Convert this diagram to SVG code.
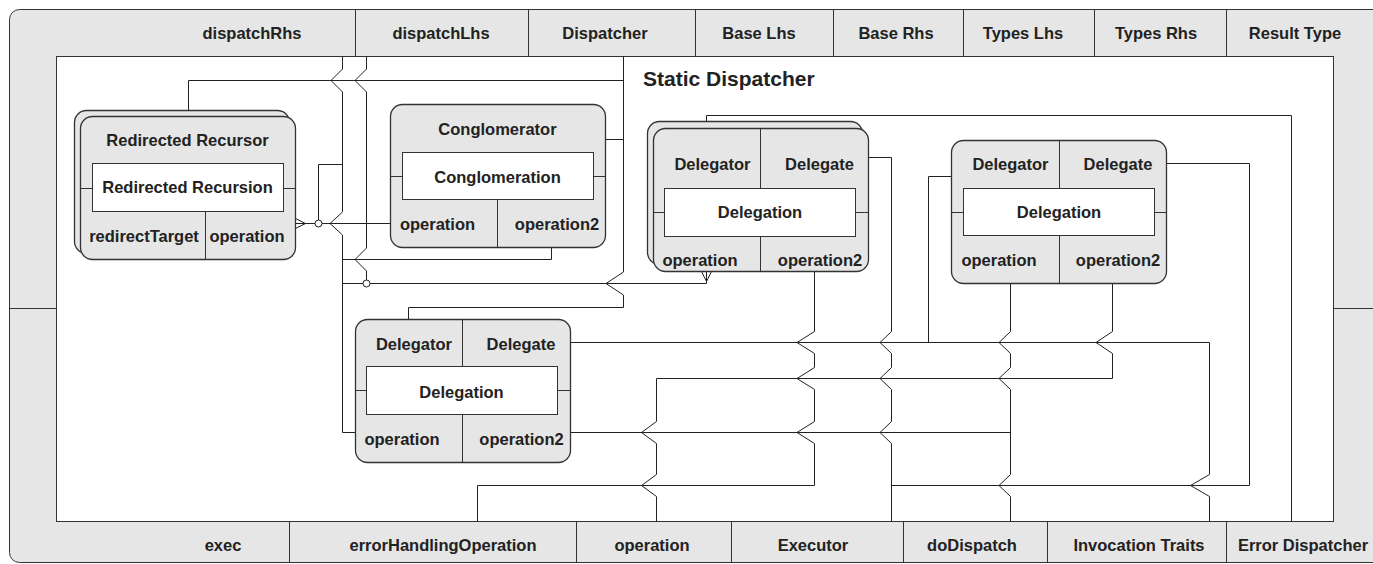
<svg xmlns="http://www.w3.org/2000/svg" width="1373" height="564" viewBox="0 0 1373 564">
<style>
.frame{fill:#e6e6e6;stroke:#333;stroke-width:1}
.inner{fill:#fff;stroke:#333;stroke-width:1}
.node{fill:#e6e6e6;stroke:#333;stroke-width:1.3}
.ln{fill:none;stroke:#333;stroke-width:1}
.edge{fill:none;stroke:#222;stroke-width:1}
.dot{fill:#fff;stroke:#222;stroke-width:1}
text{font-family:"Liberation Sans",Arial,sans-serif;font-weight:bold;font-size:16.5px;fill:#222;text-anchor:middle}
.title{font-size:21px;text-anchor:start}
</style>
<g id="container">
<rect class="frame" x="9.5" y="9.5" width="1400" height="553" rx="10"/>
<rect class="inner" x="56.5" y="56.5" width="1277" height="465"/>
<path class="ln" d="M355.5 9.5V56.5M528.5 9.5V56.5M695.5 9.5V56.5M833.5 9.5V56.5M963.5 9.5V56.5M1094.5 9.5V56.5M1226.5 9.5V56.5"/>
<path class="ln" d="M289.5 521.5V562.5M576.5 521.5V562.5M731.5 521.5V562.5M903.5 521.5V562.5M1047.5 521.5V562.5M1226.5 521.5V562.5"/>
<path class="ln" d="M9.5 308.5H56.5M1333.5 308.5H1373"/>
<text x="252" y="39">dispatchRhs</text>
<text x="441" y="39">dispatchLhs</text>
<text x="605" y="39">Dispatcher</text>
<text x="759" y="39">Base Lhs</text>
<text x="896" y="39">Base Rhs</text>
<text x="1023" y="39">Types Lhs</text>
<text x="1156" y="39">Types Rhs</text>
<text x="1295" y="39">Result Type</text>
<text x="223" y="551">exec</text>
<text x="443" y="551">errorHandlingOperation</text>
<text x="652" y="551">operation</text>
<text x="813" y="551">Executor</text>
<text x="972" y="551">doDispatch</text>
<text x="1139" y="551">Invocation Traits</text>
<text x="1303" y="551">Error Dispatcher</text>
<text class="title" x="643" y="86">Static Dispatcher</text>
</g>
<g id="connectors">
<path class="edge" d="M342.5 56.5V69L331 80.5L342.5 92V212L330 223.5L342.5 235V432.5H355.5"/>
<path class="edge" d="M342.5 164.5H318.5V220"/>
<path class="edge" d="M295.5 223.5H390.5M295.5 218.5L305.5 223.5L295.5 228.5"/>
<circle class="dot" cx="318.5" cy="223.5" r="3.5"/>
<path class="edge" d="M366.5 56.5V69L355 80.5L366.5 92V248L355 259.5L366.5 271V280"/>
<path class="edge" d="M188.5 116.5V80.5H623.5"/>
<path class="edge" d="M623.5 56.5V272L606 283.5L623.5 295V307.5H408.5V319.5"/>
<path class="edge" d="M605.5 139.5H623.5"/>
<path class="edge" d="M551.5 247.5V259.5H342.5"/>
<path class="edge" d="M706.5 271.5V283.5H342.5M701.5 271.5L706.5 281.5L711.5 271.5"/>
<circle class="dot" cx="366.5" cy="283.5" r="3.5"/>
<path class="edge" d="M1291.5 521.5V115.5H706.5V128.5"/>
<path class="edge" d="M868.5 157.5H891.5V331.5L880 342.5L891.5 353.5V367.5L880 378.5L891.5 389.5V421.5L880 432.5L891.5 443.5V521.5"/>
<path class="edge" d="M1166.5 163.5H1249.5V485.5H891.5"/>
<path class="edge" d="M814.5 271.5V331.5L797 342.5L814.5 353.5V367.5L797 378.5L814.5 389.5V421.5L797 432.5L814.5 443.5V485.5H477.5V521.5"/>
<path class="edge" d="M1112.5 283.5V331.5L1096 342.5L1112.5 353.5V378.5H656.5V421.5L641.5 432.5L656.5 443.5V474.5L641.5 485.5L656.5 496.5V521.5"/>
<path class="edge" d="M1010.5 283.5V331.5L999 342.5L1010.5 353.5V367.5L999 378.5L1010.5 389.5V474.5L999 485.5L1010.5 496.5V521.5"/>
<path class="edge" d="M570.5 432.5H1010.5"/>
<path class="edge" d="M1209.5 521.5V496.5L1190.5 485.5L1209.5 474.5V342.5H570.5"/>
<path class="edge" d="M951.5 176.5H928.5V342.5"/>
</g>
<g id="redirected-recursor">
<rect class="node" x="74.5" y="110.5" width="215" height="143" rx="12"/>
<rect class="node" x="80.5" y="116.5" width="215" height="143" rx="12"/>
<rect class="inner" x="92.5" y="163.5" width="191" height="48"/>
<path class="ln" d="M80.5 188.5H92.5M283.5 188.5H295.5M205.5 211.5V259.5"/>
<text x="187.5" y="146">Redirected Recursor</text>
<text x="187.5" y="193">Redirected Recursion</text>
<text x="144" y="242">redirectTarget</text>
<text x="247" y="242">operation</text>
</g>
<g id="conglomerator">
<rect class="node" x="390.5" y="104.5" width="215" height="143" rx="12"/>
<rect class="inner" x="402.5" y="152.5" width="191" height="47"/>
<path class="ln" d="M390.5 176.5H402.5M593.5 176.5H605.5M497.5 199.5V247.5"/>
<text x="497.5" y="135">Conglomerator</text>
<text x="497.5" y="183">Conglomeration</text>
<text x="437.5" y="230">operation</text>
<text x="557" y="230">operation2</text>
</g>
<g id="delegation-1">
<rect class="node" x="647.5" y="121.5" width="215" height="143" rx="12"/>
<rect class="node" x="653.5" y="128.5" width="215" height="143" rx="12"/>
<rect class="inner" x="664.5" y="188.5" width="191" height="48"/>
<path class="ln" d="M653.5 212.5H664.5M855.5 212.5H868.5M760.5 128.5V188.5M760.5 236.5V271.5"/>
<text x="712.5" y="170">Delegator</text>
<text x="819.5" y="170">Delegate</text>
<text x="760" y="218">Delegation</text>
<text x="700" y="266">operation</text>
<text x="820" y="266">operation2</text>
</g>
<g id="delegation-2">
<rect class="node" x="951.5" y="140.5" width="215" height="143" rx="12"/>
<rect class="inner" x="963.5" y="188.5" width="191" height="47"/>
<path class="ln" d="M951.5 212.5H963.5M1154.5 212.5H1166.5M1059.5 140.5V188.5M1059.5 235.5V283.5"/>
<text x="1010.5" y="170">Delegator</text>
<text x="1118" y="170">Delegate</text>
<text x="1059" y="218">Delegation</text>
<text x="999" y="266">operation</text>
<text x="1118" y="266">operation2</text>
</g>
<g id="delegation-3">
<rect class="node" x="355.5" y="319.5" width="215" height="143" rx="12"/>
<rect class="inner" x="366.5" y="366.5" width="191" height="48"/>
<path class="ln" d="M355.5 390.5H366.5M557.5 390.5H570.5M462.5 319.5V366.5M462.5 414.5V462.5"/>
<text x="414" y="350">Delegator</text>
<text x="521" y="350">Delegate</text>
<text x="461.5" y="397.5">Delegation</text>
<text x="402" y="445">operation</text>
<text x="521.5" y="445">operation2</text>
</g>
</svg>
